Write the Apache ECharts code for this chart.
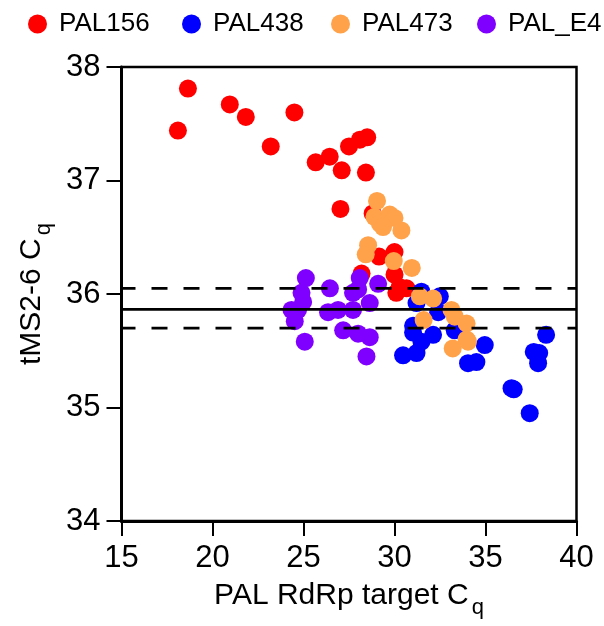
<!DOCTYPE html>
<html>
<head>
<meta charset="utf-8">
<script src="https://cdn.jsdelivr.net/npm/echarts@6/dist/echarts.min.js"></script>
<style>html,body{margin:0;padding:0;background:#fff;}#c{width:604px;height:626px;}</style>
</head>
<body>
<div id="c"></div>
<script>
const seriesNames = ['PAL156', 'PAL438', 'PAL473', 'PAL_E4'];
const xTicks = [15, 20, 25, 30, 35, 40];
const yTicks = [34, 35, 36, 37, 38];
const pal156 = [[18.1,37.44],[18.65,37.81],[20.95,37.67],[21.83,37.56],[23.2,37.30],[24.5,37.60],[25.67,37.16],[26.44,37.21],[27.1,37.09],[27.03,36.75],[27.5,37.30],[28.1,37.36],[28.5,37.38],[28.43,37.07],[28.8,36.71],[29.15,36.33],[30.0,36.37],[28.19,36.18],[30.0,36.17],[30.29,36.06],[30.66,36.05],[30.1,36.01]];
const pal438 = [[31.48,36.02],[32.49,35.98],[31.21,35.92],[32.4,35.84],[31.02,35.72],[31.02,35.66],[32.12,35.64],[31.48,35.58],[30.47,35.46],[31.21,35.48],[33.31,35.68],[33.48,35.70],[34.96,35.55],[34.04,35.39],[34.5,35.40],[38.33,35.64],[37.65,35.49],[37.95,35.48],[37.89,35.39],[36.43,35.17],[36.55,35.16],[37.43,34.95]];
const pal473 = [[29.04,36.82],[28.9,36.68],[29.2,36.62],[29.74,36.70],[30.0,36.67],[29.37,36.59],[30.38,36.56],[28.55,36.43],[28.42,36.35],[29.96,36.29],[30.95,36.23],[31.39,35.98],[32.12,35.96],[31.6,35.77],[33.13,35.86],[33.31,35.80],[33.96,35.74],[34.04,35.58],[33.96,35.60],[33.2,35.52]];
const palE4 = [[25.13,36.14],[24.89,36.01],[24.98,35.93],[24.7,35.86],[24.34,35.86],[24.52,35.76],[25.07,35.58],[26.45,36.05],[26.35,35.84],[26.9,35.86],[27.18,35.68],[28.0,35.65],[28.64,35.62],[27.72,35.86],[28.09,36.14],[28.0,36.04],[29.1,36.09],[28.64,35.92],[27.72,36.01],[28.46,35.45]];
const refMean = 35.865;
const refUpper = 36.05;
const refLower = 35.70;

const colors = ['#ff0000', '#0000ff', '#ffa24a', '#8000ff'];
const FONT = "'Liberation Sans', Arial, Helvetica, sans-serif";
const chart = echarts.init(document.getElementById('c'));
const sets = [pal156, pal438, pal473, palE4];
const legendLeft = [23, 177, 326, 472];

const series = sets.map((d, i) => ({
  name: seriesNames[i], type: 'scatter', data: d, symbol: 'circle', symbolSize: 18,
  itemStyle: { color: colors[i], opacity: 1 }, z: 3 + i, emphasis: { disabled: true }
}));
function refLine(v, dashed) {
  return { type: 'line', data: [[xTicks[0], v], [xTicks[xTicks.length - 1], v]], symbol: 'none', silent: true, z: 10,
    lineStyle: { color: '#000', width: 2.8, type: dashed ? [16, 16] : 'solid', dashOffset: 2 } };
}
series.push(refLine(refMean, false), refLine(refUpper, true), refLine(refLower, true));

const subStyle = { fontFamily: FONT, fontSize: 22, color: '#000', verticalAlign: 'bottom', lineHeight: 46, padding: [0, 0, 0, 3] };

chart.setOption({
  animation: false,
  legend: seriesNames.map((n, i) => ({
    data: [n], left: legendLeft[i], top: 6, icon: 'circle', itemWidth: 19, itemHeight: 19,
    itemGap: 0, selectedMode: false,
    textStyle: { fontFamily: FONT, fontSize: 26, color: '#000', padding: [0, 0, 0, 7] }
  })),
  grid: { left: 121.5, right: 27.5, top: 67, bottom: 105, show: true, borderColor: '#000', borderWidth: 2.5, containLabel: false },
  xAxis: {
    type: 'value', min: xTicks[0], max: xTicks[xTicks.length - 1], interval: 5,
    name: 'PAL RdRp target C{sub|q}', nameLocation: 'middle', nameGap: 52,
    nameTextStyle: { fontFamily: FONT, fontSize: 30, color: '#000', rich: { sub: subStyle } },
    axisLine: { show: true, lineStyle: { color: '#000', width: 3 } },
    axisTick: { show: true, length: 15, lineStyle: { color: '#000', width: 2 } },
    axisLabel: { fontFamily: FONT, fontSize: 31, color: '#000', margin: 22 },
    splitLine: { show: false }
  },
  yAxis: {
    type: 'value', min: yTicks[0], max: yTicks[yTicks.length - 1], interval: 1,
    name: 'tMS2-6 C{sub|q}', nameLocation: 'middle', nameGap: 60, nameRotate: 90,
    nameTextStyle: { fontFamily: FONT, fontSize: 30, color: '#000', rich: { sub: subStyle } },
    axisLine: { show: true, lineStyle: { color: '#000', width: 3 } },
    axisTick: { show: true, length: 15, lineStyle: { color: '#000', width: 2 } },
    axisLabel: { fontFamily: FONT, fontSize: 31, color: '#000', margin: 21 },
    splitLine: { show: false }
  },
  series: series
});
</script>
</body>
</html>
